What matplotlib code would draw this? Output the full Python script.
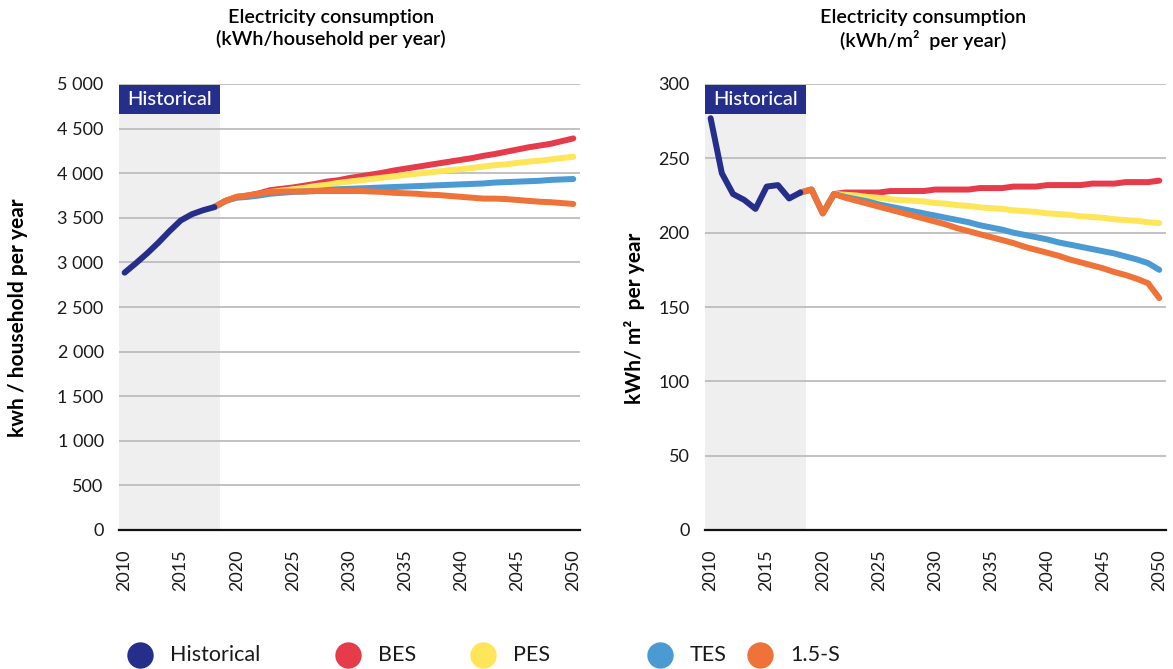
import matplotlib.pyplot as plt
import matplotlib.transforms as transforms
import numpy as np

plt.rcParams['font.family'] = ['Lato', 'DejaVu Sans']

# --- data ---------------------------------------------------------------
hist_years = list(range(2010, 2019))
scen_years = list(range(2018, 2051))

# kWh per household per year
hh_hist = [2885, 2990, 3100, 3220, 3350, 3470, 3540, 3585, 3620]
hh_bes = [3620, 3690, 3735, 3750, 3775, 3810, 3825, 3840, 3860, 3880, 3905,
          3920, 3945, 3965, 3985, 4005, 4030, 4050, 4070, 4090, 4110, 4130,
          4150, 4170, 4195, 4215, 4240, 4265, 4290, 4310, 4330, 4360, 4390]
hh_pes = [3620, 3690, 3735, 3745, 3765, 3790, 3805, 3820, 3835, 3855, 3870,
          3890, 3905, 3920, 3935, 3950, 3965, 3980, 3995, 4005, 4020, 4035,
          4045, 4060, 4075, 4090, 4100, 4115, 4130, 4140, 4155, 4170, 4185]
hh_tes = [3620, 3690, 3725, 3735, 3750, 3770, 3780, 3790, 3795, 3800, 3810,
          3820, 3825, 3830, 3835, 3840, 3845, 3850, 3855, 3860, 3865, 3870,
          3875, 3880, 3885, 3895, 3900, 3905, 3910, 3915, 3925, 3930, 3935]
hh_15s = [3620, 3690, 3735, 3750, 3770, 3790, 3795, 3795, 3795, 3800, 3800,
          3800, 3800, 3800, 3795, 3790, 3780, 3775, 3770, 3760, 3755, 3745,
          3735, 3725, 3715, 3715, 3710, 3700, 3690, 3680, 3675, 3665, 3655]

# kWh per m2 per year
m2_hist = [277, 240, 226, 222, 216, 231, 232, 223, 227]
m2_bes = [227, 229, 213, 226, 227, 227, 227, 227, 228, 228, 228, 228, 229,
          229, 229, 229, 230, 230, 230, 231, 231, 231, 232, 232, 232, 232,
          233, 233, 233, 234, 234, 234, 235]
m2_pes = [227, 229, 213, 226, 225.5, 225, 224, 223.5, 222.5, 222, 221.5, 221,
          220, 219.5, 218.5, 218, 217, 216.5, 216, 215, 214.5, 214, 213,
          212.5, 212, 211, 210.5, 210, 209, 208.5, 208, 207, 206.5]
m2_tes = [227, 229, 213, 226, 224, 222.5, 221, 219, 217.5, 216, 214.5, 213,
          211.5, 210, 208.5, 207, 205, 203.5, 202, 200, 198.5, 197, 195.5,
          193.5, 192, 190.5, 189, 187.5, 186, 184, 182, 179.5, 175]
m2_15s = [227, 229, 213, 226, 223.5, 221.5, 219.5, 217.5, 215.5, 213.5, 211.5,
          209.5, 207.5, 205.5, 203, 201, 199, 197, 195, 193, 190.5, 188.5,
          186.5, 184.5, 182, 180, 178, 176, 173.5, 171.5, 169, 166, 156]

series_names = ['Historical', 'BES', 'PES', 'TES', '1.5-S']
colors = {'Historical': '#252E8A', 'BES': '#E63B4B', 'PES': '#FFE55A',
          'TES': '#4A9AD4', '1.5-S': '#EF7239'}

hh_ticks = [0, 500, 1000, 1500, 2000, 2500, 3000, 3500, 4000, 4500, 5000]
hh_ticklabels = ['0', '500', '1 000', '1 500', '2 000', '2 500', '3 000',
                 '3 500', '4 000', '4 500', '5 000']
m2_ticks = [0, 50, 100, 150, 200, 250, 300]
year_ticks = list(range(2010, 2051, 5))

hist_start, hist_end = 2009.5, 2018.5


def draw_panel(ax, hist, scen, yticks, yticklabels):
    ax.axvspan(hist_start, hist_end, color='#EFEFEF', zorder=0, lw=0)
    for v in yticks[1:]:
        ax.axhline(v, color='#B8B8B8', lw=1.2, zorder=1)
    lw = 4.3
    for name in ['BES', 'PES', 'TES', '1.5-S']:
        ax.plot(scen_years, scen[name], color=colors[name], lw=lw,
                solid_capstyle='round', solid_joinstyle='round', zorder=3)
    ax.plot(hist_years, hist, color=colors['Historical'], lw=lw,
            solid_capstyle='round', solid_joinstyle='round', zorder=4)

    ax.set_xlim(2009.5, 2050.6)
    ax.set_ylim(yticks[0], yticks[-1])
    ax.set_yticks(yticks)
    ax.set_yticklabels(yticklabels)
    ax.set_xticks(year_ticks)
    ax.set_xticklabels([str(y) for y in year_ticks], rotation=90)
    ax.tick_params(axis='both', length=0, labelsize=13, colors='#1a1a1a')
    ax.tick_params(axis='y', pad=11)
    ax.tick_params(axis='x', pad=14)
    for s in ['top', 'right', 'left']:
        ax.spines[s].set_visible(False)
    ax.spines['bottom'].set_color('#111111')
    ax.spines['bottom'].set_linewidth(1.6)
    ax.spines['bottom'].set_zorder(5)

    # "Historical" tag across the top of the shaded period
    trans = transforms.blended_transform_factory(ax.transData, ax.transAxes)
    ax.add_patch(plt.Rectangle((hist_start, 0.933), hist_end - hist_start,
                               0.065, transform=trans,
                               fc=colors['Historical'], ec='none', zorder=6,
                               clip_on=False))
    ax.text((hist_start + hist_end) / 2, 0.965, 'Historical', transform=trans,
            ha='center', va='center', color='white', fontsize=14.5,
            fontweight='medium', zorder=7)


fig = plt.figure(figsize=(11.73, 6.69), dpi=100)
ax1 = fig.add_axes([119 / 1173, 1 - 530 / 669, 461 / 1173, 446 / 669])
ax2 = fig.add_axes([705 / 1173, 1 - 530 / 669, 461 / 1173, 446 / 669])

draw_panel(ax1, hh_hist,
           {'BES': hh_bes, 'PES': hh_pes, 'TES': hh_tes, '1.5-S': hh_15s},
           hh_ticks, hh_ticklabels)
draw_panel(ax2, m2_hist,
           {'BES': m2_bes, 'PES': m2_pes, 'TES': m2_tes, '1.5-S': m2_15s},
           m2_ticks, [str(t) for t in m2_ticks])

fig.text(18 / 1173, 1 - 318 / 669, 'kwh / household per year', rotation=90,
         ha='center', va='center', fontsize=15, fontweight='bold')
fig.text(634 / 1173, 1 - 318 / 669, 'kWh/ m²  per year', rotation=90,
         ha='center', va='center', fontsize=15, fontweight='bold')

# panel titles, top-aligned so both sit on the same lines
fig.text(331 / 1173, 1 - 9 / 669,
         'Electricity consumption\n(kWh/household per year)',
         ha='center', va='top', fontsize=14.2, fontweight='semibold',
         linespacing=1.25)
fig.text(923 / 1173, 1 - 9 / 669,
         'Electricity consumption\n(kWh/m²  per year)',
         ha='center', va='top', fontsize=14.2, fontweight='semibold',
         linespacing=1.25)

# legend row along the bottom
lax = fig.add_axes([0, 0, 1, 0.07])
lax.set_xlim(0, 1173)
lax.set_ylim(0, 1)
lax.axis('off')
key_x = [140, 348, 483, 660, 760]
for name, kx in zip(series_names, key_x):
    lax.plot([kx], [0.3], 'o', ms=19, color=colors[name], mec='none')
    lax.text(kx + 30, 0.3, name, va='center', ha='left', fontsize=15.5,
             color='#1a1a1a')

fig.savefig('out.png', dpi=100)
